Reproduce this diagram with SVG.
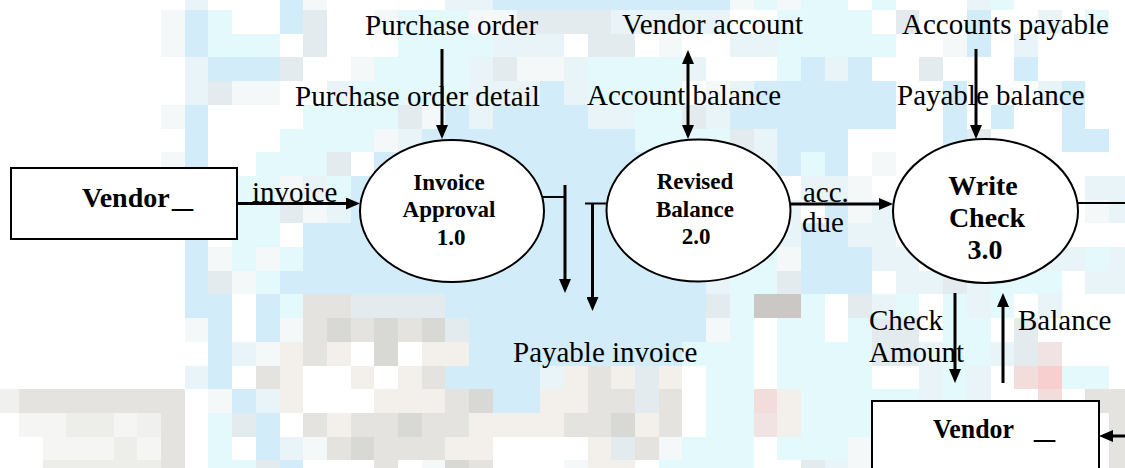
<svg xmlns="http://www.w3.org/2000/svg" width="1125" height="468" viewBox="0 0 1125 468">
<defs>
<style>
.t{font-family:"Liberation Serif","Times New Roman",serif;font-size:29px;fill:#000}
.b{font-family:"Liberation Serif","Times New Roman",serif;font-weight:bold;fill:#000}
.n{fill:#fff;stroke:#000;stroke-width:2}
.l{fill:none;stroke:#000;stroke-width:3}
.l2{fill:none;stroke:#000;stroke-width:2}
</style>
<marker id="ah" markerUnits="userSpaceOnUse" markerWidth="14" markerHeight="12" refX="10" refY="6" orient="auto"><path d="M0,0L14,6L0,12z" fill="#000"/></marker>
<marker id="as" markerUnits="userSpaceOnUse" markerWidth="14" markerHeight="12" refX="10" refY="6" orient="auto-start-reverse"><path d="M0,0L14,6L0,12z" fill="#000"/></marker>
</defs>
<rect width="1125" height="468" fill="#fff"/>
<g id="background-mosaic" shape-rendering="crispEdges">
<path fill="#d2ecf9" d="M279.5,0h23.7v10h-23.7z M492.8,0h237v10h-237z M184.7,10h23.7v23.7h-23.7z M279.5,10h23.7v23.7h-23.7z M966.8,10h23.7v23.7h-23.7z M184.7,33.7h23.7v23.7h-23.7z M966.8,33.7h23.7v23.7h-23.7z M208.4,57.4h71.1v23.7h-71.1z M800.9,57.4h23.7v23.7h-23.7z M848.3,57.4h23.7v23.7h-23.7z M1014.2,57.4h23.7v23.7h-23.7z M540.2,81.1h23.7v23.7h-23.7z M753.5,81.1h142.2v23.7h-142.2z M943.1,81.1h23.7v23.7h-23.7z M1061.6,81.1h23.7v23.7h-23.7z M184.7,104.8h23.7v23.7h-23.7z M445.4,104.8h23.7v23.7h-23.7z M492.8,104.8h94.8v23.7h-94.8z M729.8,104.8h165.9v23.7h-165.9z M943.1,104.8h23.7v23.7h-23.7z M990.5,104.8h23.7v23.7h-23.7z M1061.6,104.8h23.7v23.7h-23.7z M184.7,128.5h23.7v23.7h-23.7z M421.7,128.5h213.3v23.7h-213.3z M777.2,128.5h71.1v23.7h-71.1z M943.1,128.5h23.7v23.7h-23.7z M1061.6,128.5h47.4v23.7h-47.4z M184.7,152.2h23.7v23.7h-23.7z M374.3,152.2h308.1v23.7h-308.1z M777.2,152.2h23.7v23.7h-23.7z M824.6,152.2h23.7v23.7h-23.7z M350.6,175.9h426.6v23.7h-426.6z M350.6,199.6h426.6v23.7h-426.6z M824.6,199.6h23.7v23.7h-23.7z M184.7,223.3h23.7v23.7h-23.7z M303.2,223.3h450.3v23.7h-450.3z M800.9,223.3h47.4v23.7h-47.4z M184.7,247h23.7v23.7h-23.7z M303.2,247h426.6v23.7h-426.6z M800.9,247h71.1v23.7h-71.1z M184.7,270.7h23.7v23.7h-23.7z M279.5,270.7h426.6v23.7h-426.6z M800.9,270.7h71.1v23.7h-71.1z M184.7,294.4h47.4v23.7h-47.4z M255.8,294.4h23.7v23.7h-23.7z M445.4,294.4h260.7v23.7h-260.7z M208.4,318.1h23.7v23.7h-23.7z M255.8,318.1h23.7v23.7h-23.7z M469.1,318.1h237v23.7h-237z M208.4,341.8h23.7v23.7h-23.7z M469.1,341.8h213.3v23.7h-213.3z M208.4,365.5h23.7v23.7h-23.7z M445.4,365.5h94.8v23.7h-94.8z M232.1,389.2h23.7v23.7h-23.7z M492.8,389.2h47.4v23.7h-47.4z M255.8,412.9h23.7v23.7h-23.7z M255.8,436.6h23.7v23.7h-23.7z M279.5,460.3h23.7v7.7h-23.7z"/>
<path fill="#e3f9fc" d="M753.5,0h23.7v10h-23.7z M800.9,0h47.4v10h-47.4z M872,0h23.7v10h-23.7z M990.5,0h23.7v10h-23.7z M208.4,10h23.7v23.7h-23.7z M398,10h71.1v23.7h-71.1z M777.2,10h94.8v23.7h-94.8z M1085.3,10h23.7v23.7h-23.7z M208.4,33.7h71.1v23.7h-71.1z M398,33.7h94.8v23.7h-94.8z M777.2,33.7h118.5v23.7h-118.5z M374.3,57.4h94.8v23.7h-94.8z M587.6,57.4h94.8v23.7h-94.8z M777.2,57.4h23.7v23.7h-23.7z M350.6,81.1h118.5v23.7h-118.5z M587.6,81.1h94.8v23.7h-94.8z M303.2,104.8h94.8v23.7h-94.8z M635,104.8h47.4v23.7h-47.4z M279.5,128.5h94.8v23.7h-94.8z M635,128.5h94.8v23.7h-94.8z M255.8,152.2h71.1v23.7h-71.1z M706.1,152.2h23.7v23.7h-23.7z M800.9,152.2h23.7v23.7h-23.7z M232.1,175.9h47.4v23.7h-47.4z M326.9,175.9h23.7v23.7h-23.7z M232.1,199.6h47.4v23.7h-47.4z M232.1,223.3h47.4v23.7h-47.4z M232.1,247h23.7v23.7h-23.7z M279.5,247h23.7v23.7h-23.7z M729.8,247h47.4v23.7h-47.4z M1085.3,247h23.7v23.7h-23.7z M255.8,270.7h23.7v23.7h-23.7z M729.8,270.7h47.4v23.7h-47.4z M990.5,270.7h71.1v23.7h-71.1z M279.5,294.4h23.7v23.7h-23.7z M729.8,294.4h23.7v23.7h-23.7z M800.9,294.4h23.7v23.7h-23.7z M895.7,294.4h23.7v23.7h-23.7z M943.1,294.4h23.7v23.7h-23.7z M990.5,294.4h23.7v23.7h-23.7z M729.8,318.1h23.7v23.7h-23.7z M777.2,318.1h47.4v23.7h-47.4z M848.3,318.1h23.7v23.7h-23.7z M943.1,318.1h47.4v23.7h-47.4z M682.4,341.8h71.1v23.7h-71.1z M777.2,341.8h94.8v23.7h-94.8z M943.1,341.8h47.4v23.7h-47.4z M706.1,365.5h47.4v23.7h-47.4z M777.2,365.5h94.8v23.7h-94.8z M943.1,365.5h23.7v23.7h-23.7z M1061.6,365.5h47.4v23.7h-47.4z M706.1,389.2h47.4v23.7h-47.4z M800.9,389.2h118.5v23.7h-118.5z M943.1,389.2h23.7v23.7h-23.7z M208.4,412.9h23.7v23.7h-23.7z M706.1,412.9h47.4v23.7h-47.4z M800.9,412.9h71.1v23.7h-71.1z M208.4,436.6h23.7v23.7h-23.7z M682.4,436.6h71.1v23.7h-71.1z M777.2,436.6h71.1v23.7h-71.1z M208.4,460.3h47.4v7.7h-47.4z M658.7,460.3h94.8v7.7h-94.8z"/>
<path fill="#e9f4f9" d="M184.7,0h23.7v10h-23.7z M445.4,0h47.4v10h-47.4z M966.8,0h23.7v10h-23.7z M611.3,10h118.5v23.7h-118.5z M1037.9,10h23.7v23.7h-23.7z M492.8,33.7h71.1v23.7h-71.1z M729.8,33.7h47.4v23.7h-47.4z M1014.2,33.7h23.7v23.7h-23.7z M184.7,57.4h23.7v23.7h-23.7z M469.1,57.4h23.7v23.7h-23.7z M563.9,57.4h23.7v23.7h-23.7z M682.4,57.4h23.7v23.7h-23.7z M824.6,57.4h23.7v23.7h-23.7z M184.7,81.1h23.7v23.7h-23.7z M326.9,81.1h23.7v23.7h-23.7z M469.1,81.1h71.1v23.7h-71.1z M563.9,81.1h23.7v23.7h-23.7z M729.8,81.1h23.7v23.7h-23.7z M1037.9,81.1h23.7v23.7h-23.7z M469.1,104.8h23.7v23.7h-23.7z M587.6,104.8h47.4v23.7h-47.4z M706.1,104.8h23.7v23.7h-23.7z M398,128.5h23.7v23.7h-23.7z M753.5,128.5h23.7v23.7h-23.7z M753.5,152.2h23.7v23.7h-23.7z M303.2,175.9h23.7v23.7h-23.7z M800.9,175.9h47.4v23.7h-47.4z M1085.3,175.9h47.4v23.7h-47.4z M326.9,199.6h23.7v23.7h-23.7z M777.2,199.6h23.7v23.7h-23.7z M872,199.6h23.7v23.7h-23.7z M1109,199.6h23.7v23.7h-23.7z M753.5,223.3h47.4v23.7h-47.4z M848.3,223.3h47.4v23.7h-47.4z M872,247h47.4v23.7h-47.4z M1037.9,247h47.4v23.7h-47.4z M1109,247h23.7v23.7h-23.7z M706.1,270.7h23.7v23.7h-23.7z M895.7,270.7h47.4v23.7h-47.4z M966.8,270.7h23.7v23.7h-23.7z M1085.3,270.7h47.4v23.7h-47.4z M872,294.4h23.7v23.7h-23.7z M966.8,294.4h23.7v23.7h-23.7z M1037.9,294.4h23.7v23.7h-23.7z M232.1,341.8h23.7v23.7h-23.7z M919.4,341.8h23.7v23.7h-23.7z M990.5,341.8h23.7v23.7h-23.7z M184.7,365.5h23.7v23.7h-23.7z M540.2,365.5h23.7v23.7h-23.7z M919.4,365.5h23.7v23.7h-23.7z M966.8,365.5h23.7v23.7h-23.7z M255.8,389.2h23.7v23.7h-23.7z M919.4,389.2h23.7v23.7h-23.7z M966.8,389.2h23.7v23.7h-23.7z M279.5,436.6h23.7v23.7h-23.7z M824.6,460.3h23.7v7.7h-23.7z"/>
<path fill="#f5f8f9" d="M303.2,0h23.7v10h-23.7z M729.8,0h23.7v10h-23.7z M777.2,0h23.7v10h-23.7z M161,10h23.7v23.7h-23.7z M374.3,10h23.7v23.7h-23.7z M469.1,10h47.4v23.7h-47.4z M161,33.7h23.7v23.7h-23.7z M658.7,33.7h23.7v23.7h-23.7z M943.1,33.7h23.7v23.7h-23.7z M350.6,57.4h23.7v23.7h-23.7z M516.5,57.4h47.4v23.7h-47.4z M232.1,81.1h47.4v23.7h-47.4z M706.1,81.1h23.7v23.7h-23.7z M161,104.8h23.7v23.7h-23.7z M421.7,104.8h23.7v23.7h-23.7z M374.3,128.5h23.7v23.7h-23.7z M161,152.2h23.7v23.7h-23.7z M872,152.2h23.7v23.7h-23.7z M279.5,175.9h23.7v23.7h-23.7z M848.3,175.9h23.7v23.7h-23.7z M303.2,199.6h23.7v23.7h-23.7z M848.3,199.6h23.7v23.7h-23.7z M1085.3,199.6h23.7v23.7h-23.7z M208.4,247h23.7v23.7h-23.7z M255.8,247h23.7v23.7h-23.7z M777.2,247h23.7v23.7h-23.7z M232.1,270.7h23.7v23.7h-23.7z M184.7,318.1h23.7v23.7h-23.7z M279.5,318.1h23.7v23.7h-23.7z M706.1,318.1h23.7v23.7h-23.7z M255.8,341.8h23.7v23.7h-23.7z M208.4,389.2h23.7v23.7h-23.7z M303.2,436.6h23.7v23.7h-23.7z M658.7,436.6h23.7v23.7h-23.7z M848.3,436.6h23.7v23.7h-23.7z M421.7,460.3h23.7v7.7h-23.7z M563.9,460.3h23.7v7.7h-23.7z M848.3,460.3h23.7v7.7h-23.7z"/>
<path fill="#e3ebee" d="M303.2,10h23.7v23.7h-23.7z M516.5,10h94.8v23.7h-94.8z M895.7,10h23.7v23.7h-23.7z M303.2,33.7h23.7v23.7h-23.7z M587.6,33.7h47.4v23.7h-47.4z M279.5,57.4h23.7v23.7h-23.7z M492.8,57.4h23.7v23.7h-23.7z M919.4,57.4h23.7v23.7h-23.7z M208.4,81.1h23.7v23.7h-23.7z M398,104.8h23.7v23.7h-23.7z M682.4,104.8h23.7v23.7h-23.7z M729.8,128.5h23.7v23.7h-23.7z M966.8,128.5h23.7v23.7h-23.7z M326.9,152.2h23.7v23.7h-23.7z M682.4,152.2h23.7v23.7h-23.7z M729.8,152.2h23.7v23.7h-23.7z M279.5,199.6h23.7v23.7h-23.7z M208.4,270.7h23.7v23.7h-23.7z M777.2,270.7h23.7v23.7h-23.7z M943.1,270.7h23.7v23.7h-23.7z M350.6,294.4h94.8v23.7h-94.8z M706.1,294.4h23.7v23.7h-23.7z M848.3,294.4h23.7v23.7h-23.7z M445.4,318.1h23.7v23.7h-23.7z M872,318.1h47.4v23.7h-47.4z M1014.2,318.1h23.7v23.7h-23.7z M872,341.8h47.4v23.7h-47.4z M1014.2,341.8h23.7v23.7h-23.7z M635,365.5h23.7v23.7h-23.7z M635,389.2h23.7v23.7h-23.7z M232.1,412.9h23.7v23.7h-23.7z M611.3,436.6h23.7v23.7h-23.7z M255.8,460.3h23.7v7.7h-23.7z M800.9,460.3h23.7v7.7h-23.7z"/>
<path fill="#e4e3df" d="M303.2,294.4h47.4v23.7h-47.4z M303.2,318.1h23.7v23.7h-23.7z M350.6,318.1h23.7v23.7h-23.7z M398,318.1h23.7v23.7h-23.7z M303.2,341.8h23.7v23.7h-23.7z M255.8,365.5h23.7v23.7h-23.7z M421.7,365.5h23.7v23.7h-23.7z M587.6,365.5h23.7v23.7h-23.7z M19,389.2h165.7v23.7h-165.7z M445.4,389.2h23.7v23.7h-23.7z M587.6,389.2h47.4v23.7h-47.4z M658.7,389.2h23.7v23.7h-23.7z M1085.3,389.2h47.4v23.7h-47.4z M161,412.9h23.7v23.7h-23.7z M303.2,412.9h23.7v23.7h-23.7z M350.6,412.9h47.4v23.7h-47.4z M421.7,412.9h47.4v23.7h-47.4z M563.9,412.9h47.4v23.7h-47.4z M658.7,412.9h23.7v23.7h-23.7z M1109,412.9h23.7v23.7h-23.7z M161,436.6h23.7v23.7h-23.7z M326.9,436.6h23.7v23.7h-23.7z M374.3,436.6h71.1v23.7h-71.1z M635,436.6h23.7v23.7h-23.7z M1109,436.6h23.7v23.7h-23.7z M161,460.3h23.7v7.7h-23.7z M374.3,460.3h23.7v7.7h-23.7z M469.1,460.3h23.7v7.7h-23.7z M1109,460.3h23.7v7.7h-23.7z"/>
<path fill="#d8d8d4" d="M326.9,318.1h23.7v23.7h-23.7z M374.3,318.1h23.7v23.7h-23.7z M421.7,318.1h23.7v23.7h-23.7z M374.3,341.8h23.7v23.7h-23.7z M469.1,389.2h23.7v23.7h-23.7z M398,412.9h23.7v23.7h-23.7z M611.3,412.9h23.7v23.7h-23.7z M350.6,436.6h23.7v23.7h-23.7z M445.4,460.3h23.7v7.7h-23.7z"/>
<path fill="#f3efea" d="M279.5,341.8h23.7v23.7h-23.7z M326.9,341.8h23.7v23.7h-23.7z M421.7,341.8h47.4v23.7h-47.4z M279.5,365.5h23.7v23.7h-23.7z M350.6,365.5h23.7v23.7h-23.7z M398,365.5h23.7v23.7h-23.7z M563.9,365.5h23.7v23.7h-23.7z M611.3,365.5h23.7v23.7h-23.7z M658.7,365.5h23.7v23.7h-23.7z M279.5,389.2h23.7v23.7h-23.7z M374.3,389.2h71.1v23.7h-71.1z M540.2,389.2h47.4v23.7h-47.4z M777.2,389.2h23.7v23.7h-23.7z M326.9,412.9h23.7v23.7h-23.7z M469.1,412.9h94.8v23.7h-94.8z M635,412.9h23.7v23.7h-23.7z M777.2,412.9h23.7v23.7h-23.7z M445.4,436.6h47.4v23.7h-47.4z M587.6,436.6h23.7v23.7h-23.7z M587.6,460.3h47.4v7.7h-47.4z"/>
<path fill="#f0f0ee" d="M0,389.2h19v23.7h-19z M137,412.9h24v23.7h-24z"/>
<path fill="#f5f5f3" d="M19,412.9h47v23.7h-47z M114,412.9h23v23.7h-23z M43,436.6h71v23.7h-71z M137,436.6h24v23.7h-24z"/>
<path fill="#ededea" d="M66,412.9h48v23.7h-48z M114,436.6h23v23.7h-23z M43,460.3h118v7.7h-118z"/>
<path fill="#f3dcdc" d="M1014.2,365.5h23.7v23.7h-23.7z M753.5,389.2h23.7v23.7h-23.7z M1037.9,389.2h23.7v23.7h-23.7z"/>
<path fill="#f8cfcf" d="M1037.9,365.5h23.7v23.7h-23.7z"/>
<path fill="#f1e3e3" d="M1037.9,341.8h23.7v23.7h-23.7z M753.5,412.9h23.7v23.7h-23.7z"/>
<path fill="#cbc7c5" d="M753.5,294.4h47.4v23.7h-47.4z"/>
</g>
<g id="connectors">
<path class="l" d="M237,203.5H356" marker-end="url(#ah)"/>
<path class="l" d="M442,49V135" marker-end="url(#ah)"/>
<path class="l" d="M688,54V135" marker-start="url(#as)" marker-end="url(#ah)"/>
<path class="l" d="M976,49V135" marker-end="url(#ah)"/>
<path class="l2" d="M542,197H565"/>
<path class="l" d="M565,185V289" marker-end="url(#ah)"/>
<path class="l2" d="M585,203.5H607"/>
<path class="l" d="M592.5,203.5V307" marker-end="url(#ah)"/>
<path class="l" d="M791,204H889" marker-end="url(#ah)"/>
<path class="l2" d="M1077,203H1125"/>
<path class="l" d="M955,293V379" marker-end="url(#ah)"/>
<path class="l" d="M1003,383V297" marker-end="url(#ah)"/>
<path class="l" d="M1125,436H1103" marker-end="url(#ah)"/>
<text class="t" x="365" y="35">Purchase order</text>
<text class="t" x="295" y="106">Purchase order detail</text>
<text class="t" x="622" y="34">Vendor account</text>
<text class="t" x="587" y="105">Account balance</text>
<text class="t" x="902" y="34">Accounts payable</text>
<text class="t" x="897" y="105">Payable balance</text>
<text class="t" x="252" y="202">invoice</text>
<text class="t" x="803" y="202">acc.</text>
<text class="t" x="802" y="232">due</text>
<text class="t" x="513" y="362">Payable invoice</text>
<text class="t" x="869" y="330">Check</text>
<text class="t" x="869" y="362">Amount</text>
<text class="t" x="1018" y="330">Balance</text>
</g>
<g id="vendor-source">
<rect class="n" x="11" y="168" width="226" height="71"/>
<text class="b" x="82" y="207" font-size="28">Vendor<tspan x="172" textLength="21" lengthAdjust="spacingAndGlyphs">_</tspan></text>
</g>
<g id="invoice-approval">
<ellipse class="n" cx="452" cy="211" rx="92" ry="71"/>
<text class="b" font-size="23" text-anchor="middle"><tspan x="449" y="190">Invoice</tspan><tspan x="449" y="217">Approval</tspan><tspan x="451" y="245">1.0</tspan></text>
</g>
<g id="revised-balance">
<ellipse class="n" cx="698.5" cy="210.5" rx="92" ry="71"/>
<text class="b" font-size="23" text-anchor="middle"><tspan x="695" y="189">Revised</tspan><tspan x="695" y="216.5">Balance</tspan><tspan x="696" y="244">2.0</tspan></text>
</g>
<g id="write-check">
<ellipse class="n" cx="985.5" cy="211" rx="92.5" ry="72"/>
<text class="b" font-size="28" text-anchor="middle"><tspan x="983" y="195">Write</tspan><tspan x="987" y="227">Check</tspan><tspan x="985" y="259">3.0</tspan></text>
</g>
<g id="vendor-sink">
<rect class="n" x="872" y="401" width="227" height="80"/>
<text class="b" x="933" y="438" font-size="28"><tspan textLength="81" lengthAdjust="spacingAndGlyphs">Vendor</tspan><tspan x="1034" textLength="21" lengthAdjust="spacingAndGlyphs">_</tspan></text>
</g>
</svg>
